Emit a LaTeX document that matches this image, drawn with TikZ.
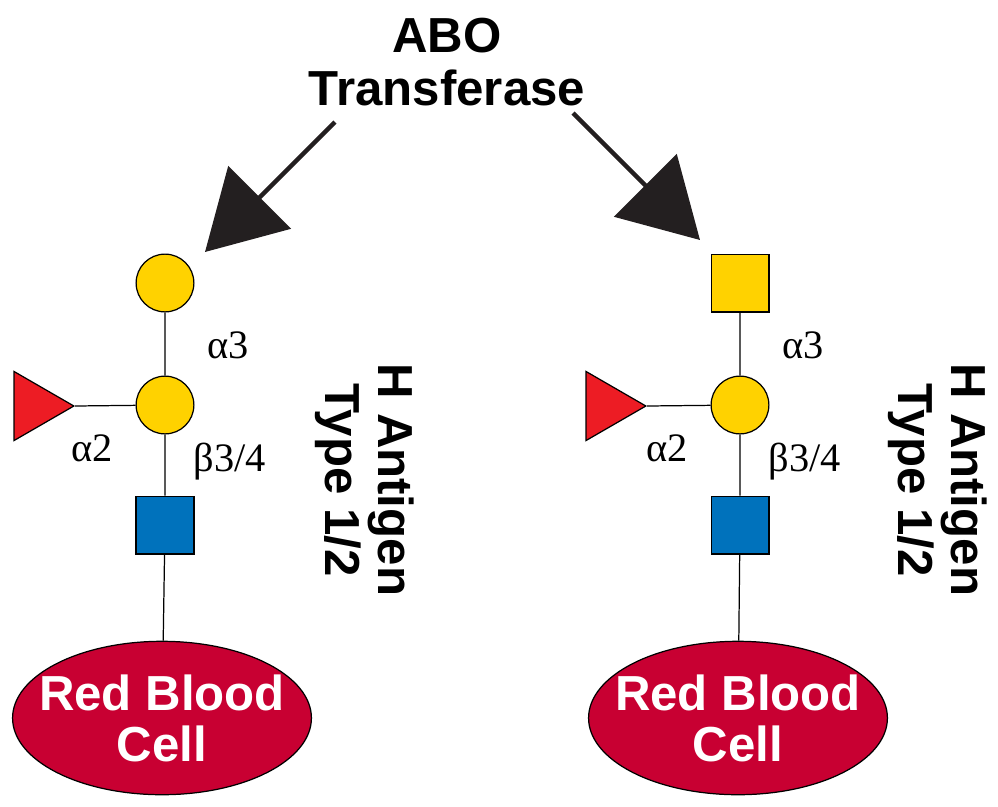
\documentclass[tikz,border=0pt]{standalone}
\usepackage{fontspec}
\setmainfont{Liberation Serif}
\newfontfamily\sansbf{Liberation Sans}
\usetikzlibrary{arrows.meta,shapes.geometric}
\definecolor{galY}{RGB}{255,210,0}
\definecolor{glcB}{RGB}{0,114,188}
\definecolor{fucR}{RGB}{237,28,36}
\definecolor{cellR}{RGB}{200,0,50}
\definecolor{ink}{RGB}{35,31,32}
\tikzset{
  gal/.style={circle,draw,fill=galY,minimum size=58\px,inner sep=0pt},
  galnac/.style={rectangle,draw,fill=galY,minimum size=58\px,inner sep=0pt},
  glcnac/.style={rectangle,draw,fill=glcB,minimum size=58\px,inner sep=0pt},
  fuc/.style={isosceles triangle,isosceles triangle apex angle=60,draw,fill=fucR,
    minimum height=60\px,inner sep=0pt,shape border rotate=0},
  cell/.style={ellipse,draw,fill=cellR,minimum width=300\px,minimum height=154\px,
    inner xsep=-13.5pt,inner ysep=0pt,
    text=white,font=\sansbf\bfseries\fontsize{28}{29}\selectfont,align=center},
  lnk/.style={font=\fontsize{23}{24}\selectfont},
  big/.style={font=\sansbf\bfseries\fontsize{28}{30}\selectfont,align=center},
  bigarrow/.style={draw=ink,line width=2.5pt,-{Triangle[length=44pt,width=50pt,fill=ink]}}
}
\newcommand{\px}{pt*0.567}
\begin{document}
\begin{tikzpicture}[x=0.02cm,y=-0.02cm,line width=0.7pt]
  \useasboundingbox (0,0) rectangle (998,806);

  \node[big] (title) at (447,62) {ABO\\Transferase};
  \coordinate (lstart) at (335,122);
  \coordinate (ltip) at (205,252);
  \coordinate (rstart) at (573,113);
  \coordinate (rtip) at (700,240);
  \draw[bigarrow] (lstart) -- (ltip);
  \draw[bigarrow] (rstart) -- (rtip);

  % left chain
  \node[cell] (lcell) at (162,718) {Red Blood\\Cell};
  \node[glcnac] (lglc) at (165,525) {};
  \node[gal] (lgal) at (165,405) {};
  \node[gal] (lgaltop) at (165,283) {};
  \node[fuc] (lfuc) at (34,406) {};
  \draw (lcell) -- (lglc) -- (lgal) -- (lgaltop);
  \draw (lfuc.apex) -- (lgal);
  \node[lnk] (la3) at (228,345) {α3};
  \node[lnk] (la2) at (92,448) {α2};
  \node[lnk] (lb34) at (230,462) {β3/4};
  \node[big,rotate=-90] (lhag) at (365,480) {H Antigen\\Type 1/2};

  % right chain
  \node[cell] (rcell) at (738,718) {Red Blood\\Cell};
  \node[glcnac] (rglc) at (740,525) {};
  \node[gal] (rgal) at (740,405) {};
  \node[galnac] (rgaltop) at (740,283) {};
  \node[fuc] (rfuc) at (606,406) {};
  \draw (rcell) -- (rglc) -- (rgal) -- (rgaltop);
  \draw (rfuc.apex) -- (rgal);
  \node[lnk] (ra3) at (803,345) {α3};
  \node[lnk] (ra2) at (667,448) {α2};
  \node[lnk] (rb34) at (805,462) {β3/4};
  \node[big,rotate=-90] (rhag) at (938,480) {H Antigen\\Type 1/2};
\end{tikzpicture}
\end{document}
